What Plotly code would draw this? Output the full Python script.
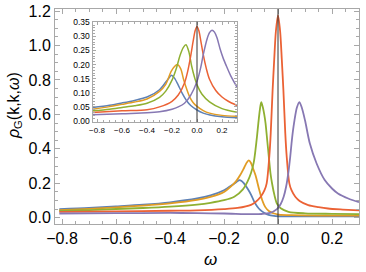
import plotly.graph_objects as go

# ---- main panel data (omega, rho) ----
blue_w = [-0.81, -0.7, -0.6, -0.5, -0.4, -0.3, -0.25, -0.2, -0.17, -0.155, -0.144, -0.135, -0.126, -0.113, -0.1, -0.089, -0.077, -0.065, -0.05, -0.035, -0.015, 0.0, 0.05, 0.1, 0.2, 0.3]
blue_r = [0.050, 0.057, 0.066, 0.076, 0.090, 0.112, 0.130, 0.160, 0.190, 0.207, 0.218, 0.214, 0.200, 0.170, 0.135, 0.097, 0.066, 0.045, 0.028, 0.017, 0.011, 0.009, 0.008, 0.008, 0.008, 0.008]

orange_w = [-0.81, -0.7, -0.6, -0.5, -0.4, -0.3, -0.25, -0.2, -0.17, -0.155, -0.14, -0.125, -0.115, -0.108, -0.1, -0.092, -0.083, -0.07, -0.059, -0.047, -0.034, -0.015, 0.003, 0.05, 0.15, 0.3]
orange_r = [0.045, 0.052, 0.061, 0.071, 0.084, 0.104, 0.121, 0.150, 0.188, 0.213, 0.248, 0.292, 0.322, 0.333, 0.318, 0.285, 0.245, 0.165, 0.105, 0.062, 0.040, 0.025, 0.019, 0.015, 0.013, 0.013]

green_w = [-0.81, -0.7, -0.6, -0.5, -0.4, -0.3, -0.25, -0.2, -0.162, -0.13, -0.113, -0.1, -0.09, -0.083, -0.078, -0.073, -0.067, -0.062, -0.056, -0.051, -0.046, -0.04, -0.034, -0.028, -0.022, -0.013, -0.004, 0.01, 0.039, 0.1, 0.2, 0.3]
green_r = [0.040, 0.045, 0.051, 0.057, 0.065, 0.077, 0.087, 0.102, 0.122, 0.165, 0.210, 0.260, 0.320, 0.400, 0.470, 0.547, 0.630, 0.672, 0.640, 0.600, 0.547, 0.450, 0.354, 0.260, 0.199, 0.130, 0.083, 0.055, 0.035, 0.026, 0.023, 0.021]

red_w = [-0.81, -0.6, -0.4, -0.3, -0.2, -0.15, -0.1, -0.083, -0.064, -0.05, -0.042, -0.032, -0.027, -0.02, -0.014, -0.008, 0.0, 0.008, 0.014, 0.02, 0.027, 0.032, 0.042, 0.05, 0.064, 0.08, 0.112, 0.15, 0.185, 0.24, 0.3]
red_r = [0.034, 0.037, 0.041, 0.043, 0.050, 0.057, 0.075, 0.092, 0.122, 0.160, 0.200, 0.360, 0.490, 0.740, 0.920, 1.080, 1.175, 1.080, 0.920, 0.740, 0.490, 0.360, 0.200, 0.160, 0.122, 0.098, 0.074, 0.062, 0.054, 0.048, 0.043]

purple_w = [-0.81, -0.6, -0.4, -0.3, -0.2, -0.1, -0.06, -0.03, -0.004, 0.01, 0.021, 0.03, 0.039, 0.045, 0.05, 0.055, 0.061, 0.07, 0.079, 0.088, 0.1, 0.118, 0.143, 0.173, 0.2, 0.222, 0.26, 0.3]
purple_r = [0.025, 0.027, 0.028, 0.027, 0.025, 0.021, 0.022, 0.028, 0.050, 0.080, 0.122, 0.180, 0.270, 0.350, 0.430, 0.500, 0.566, 0.640, 0.672, 0.640, 0.566, 0.431, 0.315, 0.219, 0.170, 0.141, 0.112, 0.091]

# ---- inset data ----
ib_w = [-0.836, -0.7, -0.6, -0.5, -0.4, -0.3, -0.25, -0.22, -0.205, -0.18, -0.15, -0.12, -0.083, -0.05, 0.0, 0.05, 0.104, 0.2, 0.32]
ib_r = [0.048, 0.056, 0.064, 0.073, 0.085, 0.111, 0.138, 0.155, 0.162, 0.152, 0.127, 0.100, 0.072, 0.055, 0.039, 0.028, 0.021, 0.015, 0.012]

io_w = [-0.836, -0.7, -0.6, -0.5, -0.4, -0.3, -0.25, -0.208, -0.18, -0.157, -0.13, -0.109, -0.08, -0.056, -0.03, 0.0, 0.05, 0.1, 0.2, 0.32]
io_r = [0.042, 0.051, 0.059, 0.067, 0.078, 0.105, 0.130, 0.175, 0.193, 0.200, 0.185, 0.150, 0.110, 0.083, 0.065, 0.052, 0.037, 0.028, 0.020, 0.017]

ig_w = [-0.836, -0.7, -0.6, -0.5, -0.4, -0.3, -0.25, -0.2, -0.163, -0.136, -0.11, -0.088, -0.065, -0.043, -0.02, 0.0, 0.04, 0.1, 0.2, 0.32]
ig_r = [0.036, 0.042, 0.048, 0.054, 0.063, 0.084, 0.106, 0.145, 0.190, 0.232, 0.260, 0.270, 0.245, 0.195, 0.155, 0.128, 0.095, 0.068, 0.044, 0.031]

ir_w = [-0.836, -0.6, -0.4, -0.3, -0.2, -0.15, -0.1, -0.075, -0.05, -0.03, -0.015, 0.0, 0.015, 0.03, 0.05, 0.075, 0.1, 0.15, 0.2, 0.25, 0.32]
ir_r = [0.030, 0.036, 0.040, 0.050, 0.070, 0.092, 0.135, 0.175, 0.232, 0.285, 0.320, 0.335, 0.320, 0.285, 0.235, 0.185, 0.148, 0.108, 0.085, 0.070, 0.055]

ip_w = [-0.836, -0.6, -0.4, -0.3, -0.2, -0.15, -0.1, -0.05, 0.0, 0.03, 0.05, 0.08, 0.1, 0.12, 0.14, 0.16, 0.183, 0.21, 0.235, 0.27, 0.32]
ip_r = [0.022, 0.026, 0.029, 0.033, 0.042, 0.050, 0.063, 0.092, 0.140, 0.190, 0.235, 0.290, 0.313, 0.322, 0.315, 0.295, 0.258, 0.222, 0.195, 0.160, 0.120]

main_xticks = [-0.8, -0.6, -0.4, -0.2, 0.0, 0.2]
main_xlabels = ["\u22120.8", "\u22120.6", "\u22120.4", "\u22120.2", "0.0", "0.2"]
main_yticks = [0.0, 0.2, 0.4, 0.6, 0.8, 1.0, 1.2]
main_ylabels = ["0.0", "0.2", "0.4", "0.6", "0.8", "1.0", "1.2"]
inset_yticks = [0.0, 0.05, 0.1, 0.15, 0.2, 0.25, 0.3, 0.35]
inset_ylabels = ["0.00", "0.05", "0.10", "0.15", "0.20", "0.25", "0.30", "0.35"]

colors = ["#5E81B5", "#E19C24", "#8FB032", "#EB6235", "#8778B3"]
main_series = [(blue_w, blue_r), (orange_w, orange_r), (green_w, green_r), (red_w, red_r), (purple_w, purple_r)]
inset_series = [(ib_w, ib_r), (io_w, io_r), (ig_w, ig_r), (ir_w, ir_r), (ip_w, ip_r)]

fig = go.Figure()
for (w, r), c in zip(main_series, colors):
    fig.add_trace(go.Scatter(x=w, y=r, mode="lines", line=dict(color=c, width=1.8, shape="spline", smoothing=0.8),
                             xaxis="x", yaxis="y", showlegend=False, hoverinfo="skip"))
for (w, r), c in zip(inset_series, colors):
    fig.add_trace(go.Scatter(x=w, y=r, mode="lines", line=dict(color=c, width=1.5, shape="spline", smoothing=0.8),
                             xaxis="x2", yaxis="y2", showlegend=False, hoverinfo="skip"))

frame = "#a8a8a8"
font = "Liberation Sans, Arial, sans-serif"
axis_common = dict(showline=True, linecolor=frame, linewidth=1, mirror="allticks", ticks="inside",
                   tickcolor=frame, showgrid=False, zeroline=False, automargin=False)

fig.update_layout(
    width=366, height=272,
    margin=dict(l=55, r=7, t=9, b=48, autoexpand=False),
    paper_bgcolor="white", plot_bgcolor="white",
    font=dict(family=font, color="black"),
    xaxis=dict(range=[-0.826, 0.3], tickvals=main_xticks, ticktext=main_xlabels, ticklen=5,
               minor=dict(ticks="inside", ticklen=3, tickcolor=frame, dtick=0.05, tick0=0),
               tickfont=dict(size=16), **axis_common),
    yaxis=dict(range=[-0.036, 1.212], tickvals=main_yticks, ticktext=main_ylabels, ticklen=5,
               minor=dict(ticks="inside", ticklen=3, tickcolor=frame, dtick=0.05, tick0=0),
               tickfont=dict(size=16), **axis_common),
    xaxis2=dict(domain=[0.1234, 0.5987], anchor="y2", range=[-0.836, 0.32], tickvals=main_xticks,
                ticktext=main_xlabels, ticklen=3,
                minor=dict(ticks="inside", ticklen=2, tickcolor=frame, dtick=0.05, tick0=0),
                tickfont=dict(size=8), **axis_common),
    yaxis2=dict(domain=[0.4744, 0.941], anchor="x2", range=[-0.0035, 0.352], tickvals=inset_yticks,
                ticktext=inset_ylabels, ticklen=3,
                minor=dict(ticks="inside", ticklen=2, tickcolor=frame, dtick=0.01, tick0=0),
                tickfont=dict(size=8.5), **axis_common),
    shapes=[
        dict(type="line", xref="x", yref="y domain", x0=0, x1=0, y0=0, y1=1, line=dict(color="#333333", width=1), layer="above"),
        dict(type="line", xref="x2", yref="y2 domain", x0=0, x1=0, y0=0, y1=1, line=dict(color="#333333", width=1), layer="above"),
    ],
    annotations=[
        dict(text="<i>ρ</i><sub>G</sub>(k,k,<i>ω</i>)", xref="paper", yref="paper", x=-0.135, y=0.553,
             textangle=-90, showarrow=False, font=dict(size=16, family=font), xanchor="center", yanchor="middle"),
        dict(text="<i>ω</i>", xref="paper", yref="paper", x=0.513, y=-0.163, showarrow=False,
             font=dict(size=17, family=font), xanchor="center", yanchor="middle"),
    ],
)

fig.write_html("out.html", config={"displayModeBar": False, "staticPlot": True},
               post_script="document.body.style.margin='0';document.body.style.padding='0';document.body.style.overflow='hidden';")
